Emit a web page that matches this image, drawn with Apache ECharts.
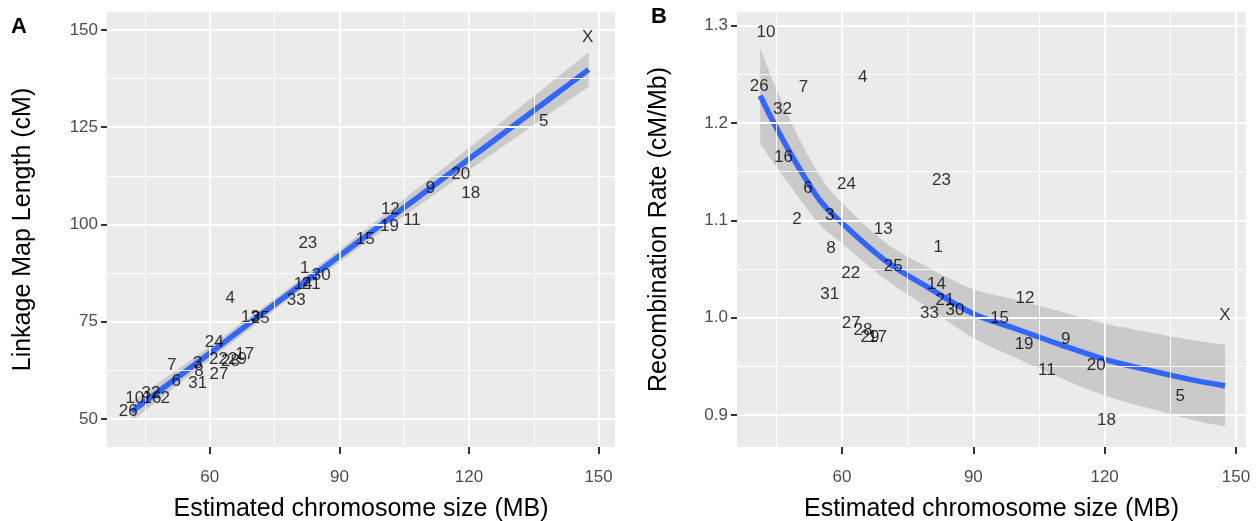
<!DOCTYPE html>
<html>
<head>
<meta charset="utf-8">
<script src="https://cdn.jsdelivr.net/npm/echarts@6/dist/echarts.min.js"></script>
<style>
  html, body { margin: 0; padding: 0; background: #fff; }
  #chart { width: 1256px; height: 521px; }
</style>
</head>
<body>
<div id="chart"></div>
<script>
// chromosome labels and values
const chrom = ['1','2','3','4','5','6','7','8','9','10','11','12','13','14','15','16','17',
  '18','19','20','21','22','23','24','25','26','27','28','29','30','31','32','33','X'];
const sizeMb = [82.0, 49.7, 57.2, 64.7, 137.3, 52.2, 51.2, 57.5, 111.1, 42.6, 106.8, 101.8, 69.4, 81.6,
  96.0, 46.6, 68.1, 120.4, 101.6, 118.1, 83.5, 62.0, 82.7, 61.0, 71.7, 41.1, 62.1, 64.8, 66.4, 85.8,
  57.2, 46.4, 80.0, 147.5];
const mapLength = [88.7, 55.3, 64.2, 81.1, 126.5, 59.6, 63.9, 62.2, 109.2, 55.3, 101.1, 103.9, 76.1, 84.7,
  96.1, 55.3, 66.5, 108.0, 99.4, 112.8, 84.7, 65.4, 95.1, 69.7, 75.8, 52.0, 61.6, 64.9, 65.4, 87.0,
  59.1, 56.6, 80.6, 148.0];
const recRate = [1.072, 1.101, 1.105, 1.247, 0.919, 1.133, 1.237, 1.071, 0.978, 1.293, 0.946, 1.020, 1.091, 1.034,
  0.999, 1.165, 0.980, 0.894, 0.973, 0.951, 1.018, 1.045, 1.141, 1.137, 1.053, 1.238, 0.994, 0.987, 0.980, 1.007,
  1.024, 1.214, 1.004, 1.002];

// smooth fits with confidence bands
const fitAx = [41.9, 50, 60, 70, 80, 90, 100, 110, 120, 130, 140, 147.7];
const fitA = [51.9, 58.6, 66.9, 75.3, 83.6, 91.9, 100.2, 108.5, 116.8, 125.1, 133.4, 139.8];
const loA = [49.4, 56.5, 65.2, 73.8, 82.2, 90.3, 98.3, 106.1, 113.9, 121.7, 129.5, 135.4];
const hiA = [54.4, 60.7, 68.7, 76.8, 85.1, 93.5, 102.2, 110.9, 119.7, 128.5, 137.4, 144.2];

const fitBx = [41.3, 45, 50, 55, 60, 70, 80, 90, 100, 110, 120, 130, 140, 147.5];
const fitB = [1.228, 1.195, 1.155, 1.120, 1.097, 1.058, 1.030, 1.004, 0.988, 0.972, 0.957, 0.946, 0.936, 0.930];
const loB = [1.179, 1.155, 1.124, 1.095, 1.076, 1.039, 1.009, 0.979, 0.958, 0.938, 0.920, 0.907, 0.895, 0.888];
const hiB = [1.277, 1.235, 1.186, 1.145, 1.118, 1.077, 1.051, 1.029, 1.018, 1.006, 0.994, 0.985, 0.977, 0.972];

// axis breaks
const xMajor = [60, 90, 120, 150];
const xMinor = [45, 75, 105, 135];
const yMajorA = [50, 75, 100, 125, 150];
const yMinorA = [62.5, 87.5, 112.5, 137.5];
const yMajorB = [0.9, 1.0, 1.1, 1.2, 1.3];
const yMinorB = [0.95, 1.05, 1.15, 1.25];

const FONT = 'Liberation Sans';
const BAND = 'rgba(153,153,153,0.4)';

const chart = echarts.init(document.getElementById('chart'));

// catmull-rom through pixel points -> cubic bezier path pieces
function curveTo(pts) {
  let d = '';
  for (let i = 0; i < pts.length - 1; i++) {
    const p0 = pts[i - 1] || pts[i], p1 = pts[i], p2 = pts[i + 1], p3 = pts[i + 2] || p2;
    const c1 = [p1[0] + (p2[0] - p0[0]) / 6, p1[1] + (p2[1] - p0[1]) / 6];
    const c2 = [p2[0] - (p3[0] - p1[0]) / 6, p2[1] - (p3[1] - p1[1]) / 6];
    d += ' C' + c1.join(',') + ' ' + c2.join(',') + ' ' + p2.join(',');
  }
  return d;
}

function bandRender(xs, lo, hi) {
  return function (params, api) {
    if (params.dataIndex !== 0) return null;
    const up = xs.map((x, i) => api.coord([x, hi[i]]));
    const dn = xs.map((x, i) => api.coord([x, lo[i]])).reverse();
    const d = 'M' + up[0].join(',') + curveTo(up) + ' L' + dn[0].join(',') + curveTo(dn) + ' Z';
    return { type: 'path', shape: { pathData: d }, style: { fill: BAND } };
  };
}

function fitRender(xs, ys) {
  return function (params, api) {
    if (params.dataIndex !== 0) return null;
    const pts = xs.map((x, i) => api.coord([x, ys[i]]));
    const d = 'M' + pts[0].join(',') + curveTo(pts);
    return {
      type: 'path', shape: { pathData: d },
      style: { fill: null, stroke: '#3366FF', lineWidth: 5.5 }
    };
  };
}

function gridLines(idx, yMajor, yMinor) {
  const major = xMajor.map(v => ({ xAxis: v })).concat(yMajor.map(v => ({ yAxis: v })));
  const minor = xMinor.map(v => ({ xAxis: v })).concat(yMinor.map(v => ({ yAxis: v })));
  const base = {
    type: 'line', xAxisIndex: idx, yAxisIndex: idx, data: [], z: 0, silent: true
  };
  return [
    Object.assign({}, base, {
      markLine: { silent: true, symbol: 'none', label: { show: false }, animation: false,
        lineStyle: { color: '#ffffff', width: 0.9, type: 'solid' }, data: minor }
    }),
    Object.assign({}, base, {
      markLine: { silent: true, symbol: 'none', label: { show: false }, animation: false,
        lineStyle: { color: '#ffffff', width: 1.8, type: 'solid' }, data: major }
    })
  ];
}

function fitSeries(idx, xs, fit, lo, hi) {
  return [
    {
      type: 'custom', xAxisIndex: idx, yAxisIndex: idx, z: 2, silent: true,
      data: xs.map((x, i) => [x, lo[i], hi[i]]),
      renderItem: bandRender(xs, lo, hi)
    },
    {
      type: 'custom', xAxisIndex: idx, yAxisIndex: idx, z: 3, silent: true,
      data: xs.map((x, i) => [x, fit[i]]),
      renderItem: fitRender(xs, fit)
    }
  ];
}

function xAxisCfg(idx, min, max) {
  return {
    type: 'value', gridIndex: idx, min: min, max: max,
    name: 'Estimated chromosome size (MB)', nameLocation: 'middle', nameGap: 50,
    nameTextStyle: { fontFamily: FONT, fontSize: 25, color: '#000' },
    axisLine: { show: false },
    axisTick: { show: true, length: 7, customValues: xMajor, lineStyle: { color: '#333', width: 2 } },
    axisLabel: { customValues: xMajor, margin: 22, fontFamily: FONT, fontSize: 17, color: '#4D4D4D' },
    splitLine: { show: false }
  };
}

function yAxisCfg(idx, min, max, name, ticks, fmt, gap) {
  return {
    type: 'value', gridIndex: idx, min: min, max: max,
    name: name, nameLocation: 'middle', nameGap: gap,
    nameTextStyle: { fontFamily: FONT, fontSize: 25, color: '#000' },
    axisLine: { show: false },
    axisTick: { show: true, length: 6, customValues: ticks, lineStyle: { color: '#333', width: 2 } },
    axisLabel: { customValues: ticks, margin: 9, fontFamily: FONT, fontSize: 17, color: '#4D4D4D', formatter: fmt },
    splitLine: { show: false }
  };
}

const labelStyle = {
  show: true, position: 'inside', formatter: '{b}',
  fontFamily: FONT, fontSize: 17, color: '#000'
};

const option = {
  animation: false,
  backgroundColor: '#ffffff',
  grid: [
    { left: 107, top: 12, width: 508, height: 435, outerBoundsMode: 'none', containLabel: false,
      show: true, backgroundColor: '#EBEBEB', borderWidth: 0 },
    { left: 737, top: 12, width: 509, height: 435, outerBoundsMode: 'none', containLabel: false,
      show: true, backgroundColor: '#EBEBEB', borderWidth: 0 }
  ],
  xAxis: [xAxisCfg(0, 36.2, 153.8), xAxisCfg(1, 36.0, 152.3)],
  yAxis: [
    yAxisCfg(0, 42.8, 154.6, 'Linkage Map Length (cM)', yMajorA, v => String(v), 71),
    yAxisCfg(1, 0.867, 1.314, 'Recombination Rate (cM/Mb)', yMajorB, v => v.toFixed(1), 65)
  ],
  graphic: [
    { type: 'text', left: 11, top: 16, style: { text: 'A', font: 'bold 22px ' + FONT, fill: '#000' } },
    { type: 'text', left: 651, top: 6, style: { text: 'B', font: 'bold 22px ' + FONT, fill: '#000' } }
  ],
  series: [
    ...gridLines(0, yMajorA, yMinorA),
    ...gridLines(1, yMajorB, yMinorB),
    ...fitSeries(0, fitAx, fitA, loA, hiA),
    ...fitSeries(1, fitBx, fitB, loB, hiB),
    {
      type: 'scatter', xAxisIndex: 0, yAxisIndex: 0, z: 10, symbolSize: 0, silent: true,
      data: chrom.map((c, i) => ({ name: c, value: [sizeMb[i], mapLength[i]] })),
      label: labelStyle
    },
    {
      type: 'scatter', xAxisIndex: 1, yAxisIndex: 1, z: 10, symbolSize: 0, silent: true,
      data: chrom.map((c, i) => ({ name: c, value: [sizeMb[i], recRate[i]] })),
      label: labelStyle
    }
  ]
};

chart.setOption(option);
</script>
</body>
</html>
